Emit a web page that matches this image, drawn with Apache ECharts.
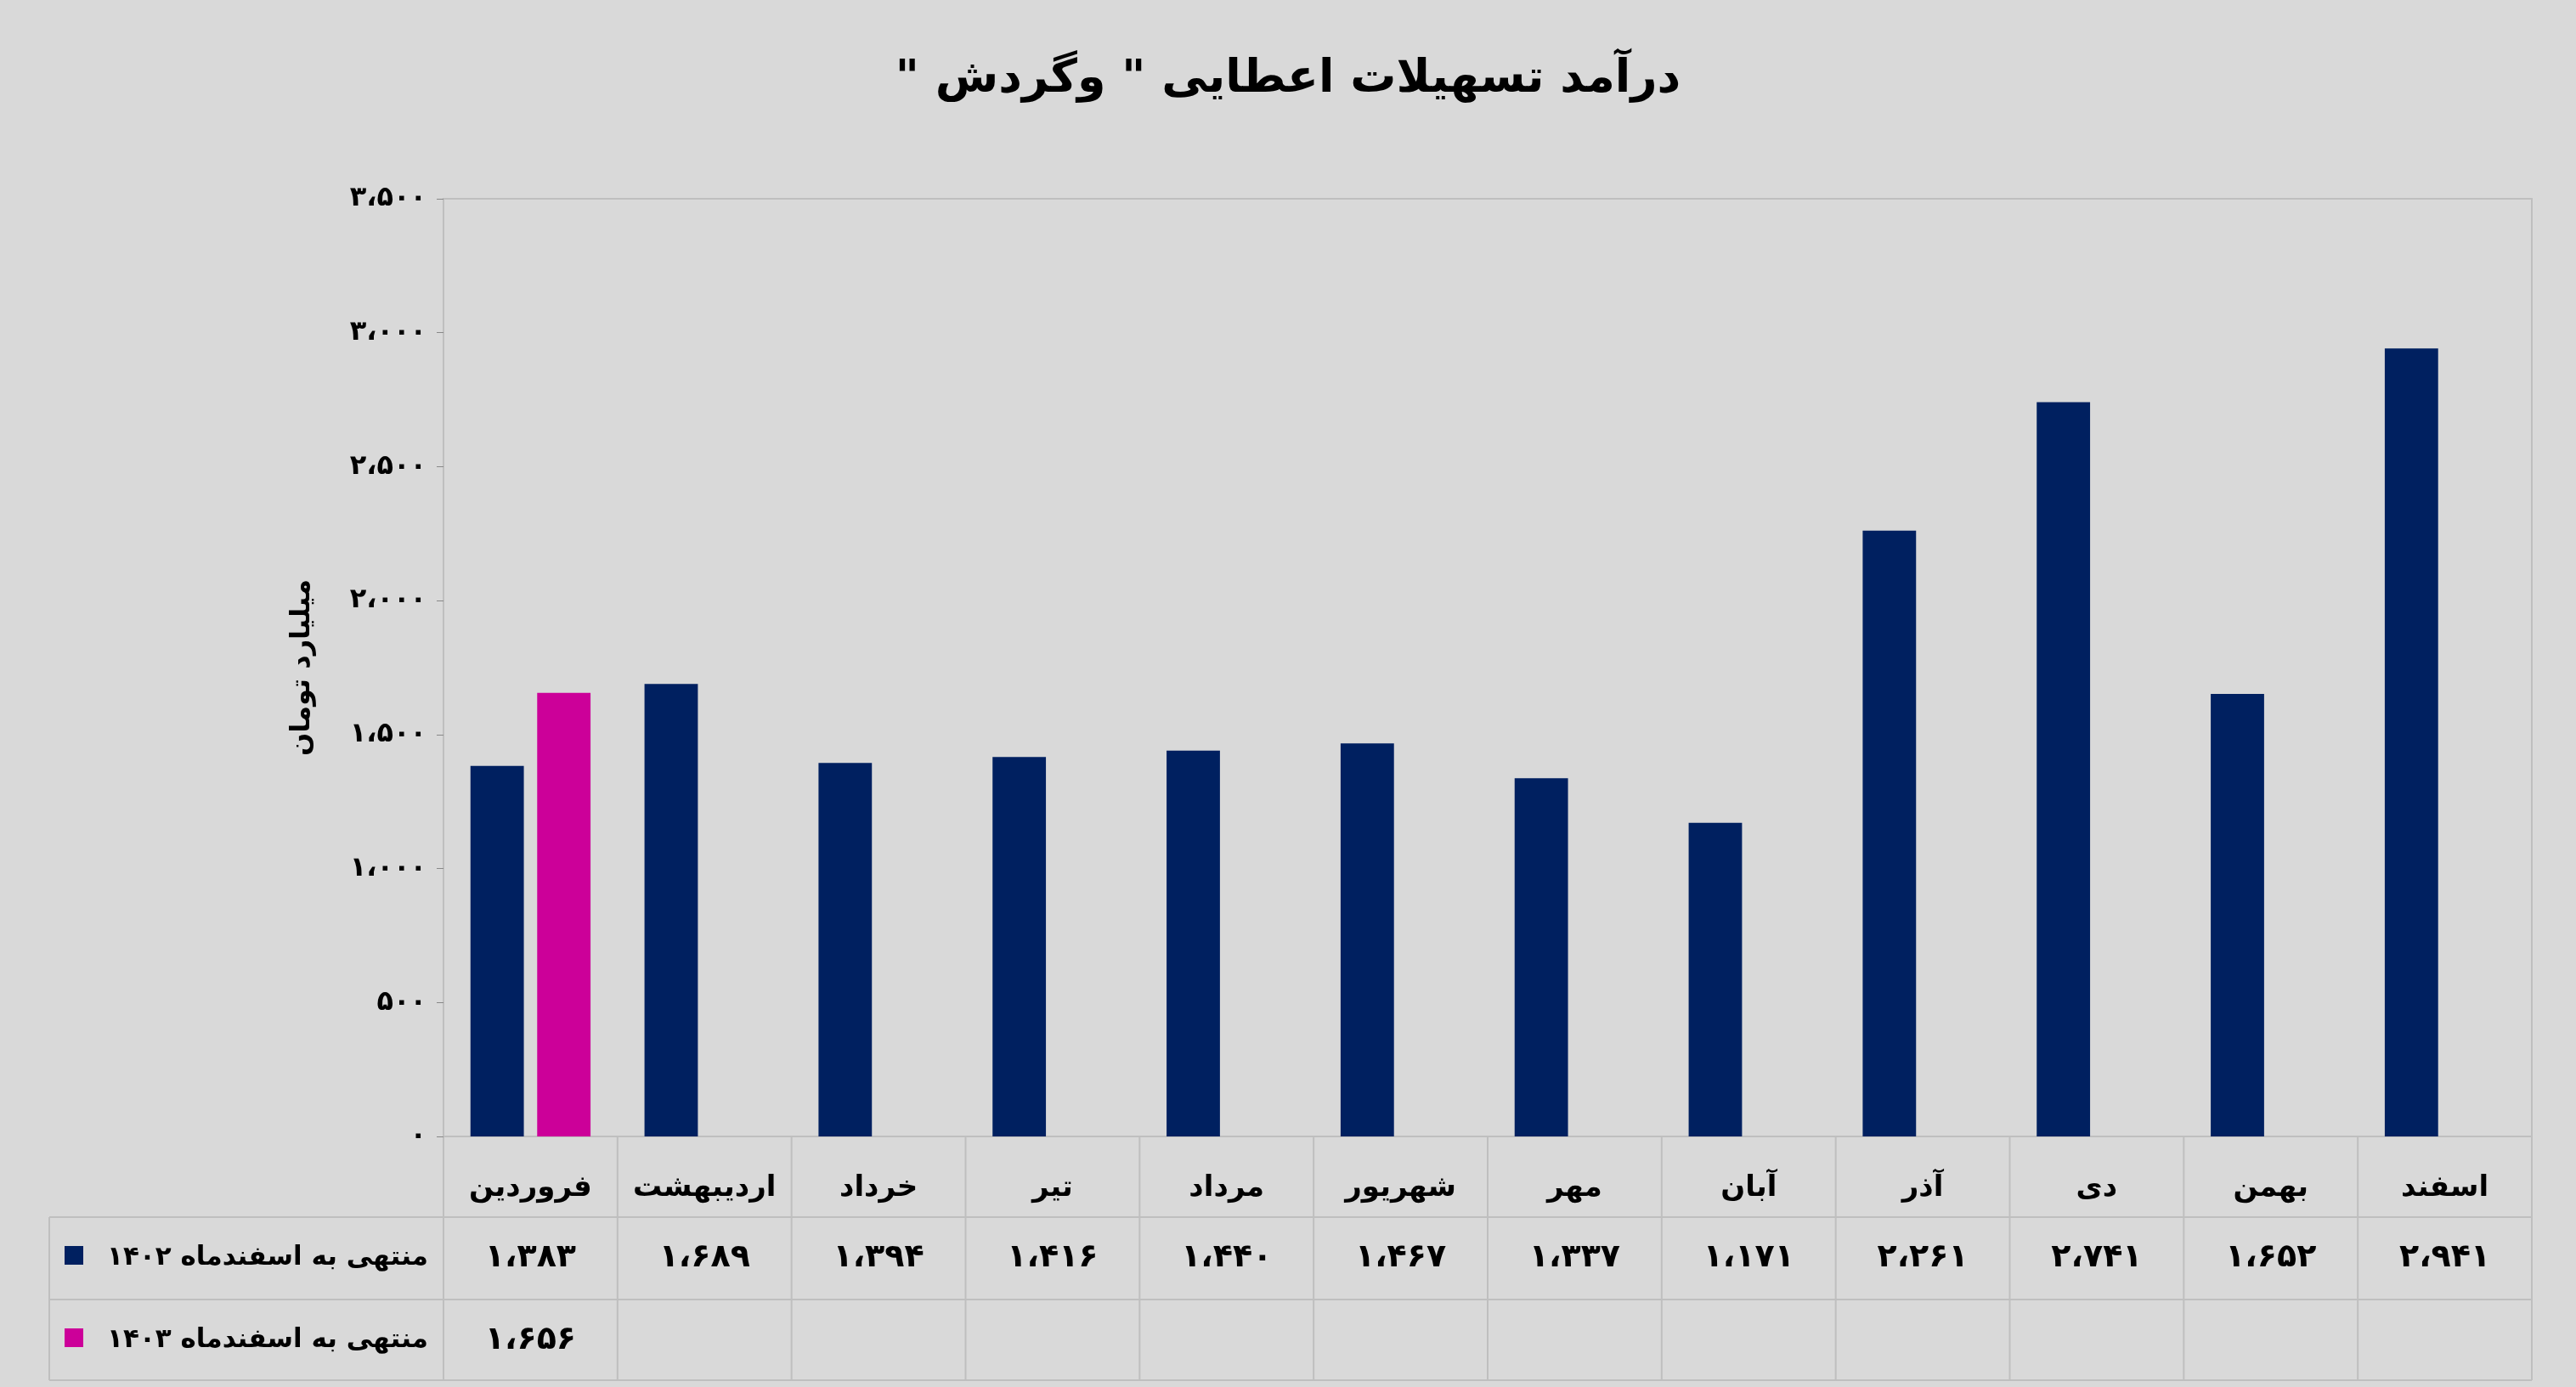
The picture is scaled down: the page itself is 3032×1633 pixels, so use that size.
<!DOCTYPE html>
<html><head><meta charset="utf-8">
<script src="https://cdn.jsdelivr.net/npm/echarts@6/dist/echarts.min.js"></script>
<style>html,body{margin:0;background:#d9d9d9}#c{width:3032px;height:1633px}</style>
</head><body><div id="c"></div>
<script>
const categories=['فروردین','اردیبهشت','خرداد','تیر','مرداد','شهریور','مهر','آبان','آذر','دی','بهمن','اسفند'];
const s1402=[1383,1689,1394,1416,1440,1467,1337,1171,2261,2741,1652,2941];
const s1403=[1656,null,null,null,null,null,null,null,null,null,null,null];
const seriesNames=['منتهی به اسفندماه ۱۴۰۲','منتهی به اسفندماه ۱۴۰۳'];
const title='درآمد تسهیلات اعطایی " وگردش "';
const F='DejaVu Sans';
function fa(n){if(n==null)return '';const s=String(n).replace(/\B(?=(\d{3})+(?!\d))/g,'،');return s.replace(/\d/g,d=>'۰۱۲۳۴۵۶۷۸۹'[d]);}
const L=522,R=2980,T=234,B=1338,r1=1433,r2=1530,r3=1625,LX=58;
const cw=(R-L)/12;
const colors=['#002060','#cc0099'];
const g=[];
const ln='#bfbfbf';
[r1,r2,r3].forEach(y=>g.push({type:'line',shape:{x1:LX,y1:y,x2:R,y2:y},style:{stroke:ln,lineWidth:2}}));
g.push({type:'line',shape:{x1:LX,y1:r1,x2:LX,y2:r3},style:{stroke:ln,lineWidth:2}});
for(let k=0;k<=12;k++){const x=L+k*cw;g.push({type:'line',shape:{x1:x,y1:B,x2:x,y2:r3},style:{stroke:ln,lineWidth:2}});}
[[r1,s1402],[r2,s1403]].forEach(([y,arr],i)=>{
  g.push({type:'text',style:{text:seriesNames[i],x:L-18,y:y+48,align:'right',verticalAlign:'middle',font:'bold 31px "'+F+'"',fill:'#000'}});
  g.push({type:'rect',shape:{x:76,y:y+34,width:22,height:22},style:{fill:colors[i]}});
  arr.forEach((v,j)=>{if(v!=null)g.push({type:'text',style:{text:fa(v),x:L+cw*(j+0.5),y:y+48,align:'center',verticalAlign:'middle',font:'bold 38px "'+F+'"',fill:'#000'}});});
});
const chart=echarts.init(document.getElementById('c'));
chart.setOption({
  backgroundColor:'#d9d9d9',animation:false,
  title:{text:'\u202B'+title+'\u202C',left:'center',top:62,textStyle:{fontFamily:F,fontWeight:'bold',fontSize:54,color:'#000'}},
  grid:{left:L,right:3032-R,top:T,bottom:1633-B,show:true,borderColor:ln,borderWidth:2,backgroundColor:'transparent'},
  xAxis:{type:'category',data:categories,axisLine:{show:false},axisTick:{show:false},
    axisLabel:{interval:0,margin:44,fontFamily:F,fontWeight:'bold',fontSize:34,color:'#000'}},
  yAxis:{type:'value',min:0,max:3500,interval:500,splitLine:{show:false},axisLine:{show:false},
    axisTick:{show:true,length:8,lineStyle:{color:'#888'}},
    name:'میلیارد تومان',nameLocation:'middle',nameGap:150,nameTextStyle:{fontFamily:F,fontWeight:'bold',fontSize:32,color:'#000'},
    axisLabel:{margin:20,formatter:fa,fontFamily:F,fontWeight:'bold',fontSize:32,color:'#000'}},
  series:[
    {type:'bar',name:seriesNames[0],data:s1402,itemStyle:{color:colors[0]},barGap:'25%',barCategoryGap:'31%'},
    {type:'bar',name:seriesNames[1],data:s1403,itemStyle:{color:colors[1]}}
  ],
  graphic:g
});
</script></body></html>
